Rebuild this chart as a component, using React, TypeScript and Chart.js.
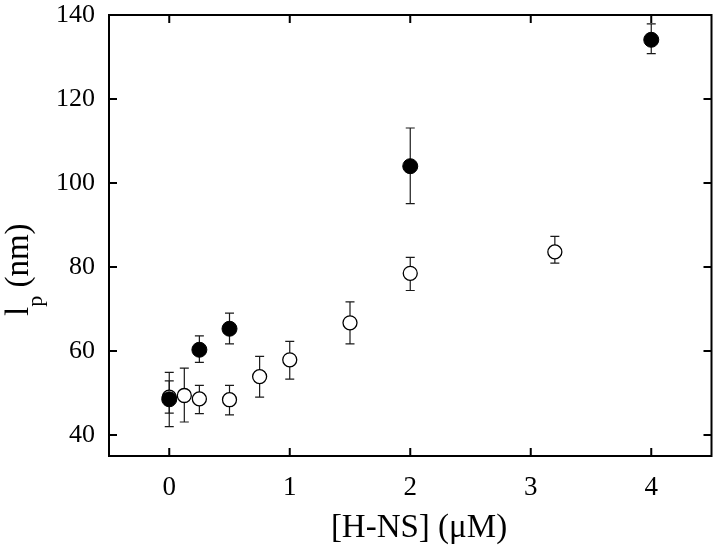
import React, { useEffect, useRef } from "react";
import { Chart, registerables } from "chart.js";

Chart.register(...registerables);

// ---- data ----
const xTicks = [0, 1, 2, 3, 4];
const yTicks = [40, 60, 80, 100, 120, 140];

const filledX = [0, 0.25, 0.5, 2, 4];
const filledY = [48.5, 60.3, 65.3, 104.0, 134.1];
const filledLow = [42.0, 57.3, 61.7, 95.1, 130.8];
const filledHigh = [54.9, 63.6, 69.0, 113.1, 137.9];

const openX = [0, 0.125, 0.25, 0.5, 0.75, 1, 1.5, 2, 3.2];
const openY = [49.0, 49.4, 48.6, 48.4, 53.9, 57.9, 66.7, 78.5, 83.6];
const openLow = [45.2, 43.1, 45.1, 44.8, 49.0, 53.3, 61.7, 74.4, 80.9];
const openHigh = [52.9, 55.9, 51.8, 51.8, 58.7, 62.3, 71.7, 82.3, 87.3];

const xTitle = "[H-NS] (\u03bcM)";
const yTitleMain = "l";
const yTitleSub = "p";
const yTitleRest = " (nm)";

const FONT = "'Liberation Serif', 'Times New Roman', serif";

const errorSeries = [
  { x: filledX, low: filledLow, high: filledHigh },
  { x: openX, low: openLow, high: openHigh },
];

const errorBarPlugin = {
  id: "errorBars",
  beforeDatasetsDraw(chart: any) {
    const { ctx, scales } = chart;
    const xs = scales.x;
    const ys = scales.y;
    ctx.save();
    ctx.strokeStyle = "#1a1a1a";
    ctx.lineWidth = 1.2;
    const cap = 4.5;
    errorSeries.forEach((s) => {
      s.x.forEach((xv, i) => {
        const px = xs.getPixelForValue(xv);
        const pl = ys.getPixelForValue(s.low[i]);
        const ph = ys.getPixelForValue(s.high[i]);
        ctx.beginPath();
        ctx.moveTo(px, pl);
        ctx.lineTo(px, ph);
        ctx.moveTo(px - cap, pl);
        ctx.lineTo(px + cap, pl);
        ctx.moveTo(px - cap, ph);
        ctx.lineTo(px + cap, ph);
        ctx.stroke();
      });
    });
    ctx.restore();
  },
};

const framePlugin = {
  id: "frame",
  afterDraw(chart: any) {
    const { ctx, chartArea, scales } = chart;
    const { left, right, top, bottom } = chartArea;
    const tl = 8;
    ctx.save();
    ctx.strokeStyle = "#000";
    ctx.lineWidth = 2;
    ctx.strokeRect(left, top, right - left, bottom - top);
    ctx.beginPath();
    xTicks.forEach((v) => {
      const px = scales.x.getPixelForValue(v);
      ctx.moveTo(px, bottom);
      ctx.lineTo(px, bottom - tl);
      ctx.moveTo(px, top);
      ctx.lineTo(px, top + tl);
    });
    yTicks.forEach((v) => {
      const py = scales.y.getPixelForValue(v);
      ctx.moveTo(left, py);
      ctx.lineTo(left + tl, py);
      ctx.moveTo(right, py);
      ctx.lineTo(right - tl, py);
    });
    ctx.stroke();

    // titles
    ctx.fillStyle = "#000";
    ctx.font = `33px ${FONT}`;
    ctx.textAlign = "center";
    ctx.textBaseline = "alphabetic";
    ctx.fillText(xTitle, 419, 537);

    // y title rotated
    ctx.save();
    ctx.translate(28, 316);
    ctx.rotate(-Math.PI / 2);
    ctx.textAlign = "left";
    ctx.font = `33px ${FONT}`;
    ctx.fillText(yTitleMain, 0, 0);
    let w = ctx.measureText(yTitleMain).width;
    ctx.font = `22px ${FONT}`;
    ctx.fillText(yTitleSub, w, 14);
    w += ctx.measureText(yTitleSub).width;
    ctx.font = `33px ${FONT}`;
    ctx.fillText(yTitleRest, w, 0);
    ctx.restore();

    ctx.restore();
  },
};

export default function App() {
  const ref = useRef<HTMLCanvasElement | null>(null);

  useEffect(() => {
    document.body.style.margin = "0";
    const canvas = ref.current;
    if (!canvas) return;
    const chart = new Chart(canvas, {
      type: "scatter",
      data: {
        datasets: [
          {
            label: "filled",
            data: filledX.map((x, i) => ({ x, y: filledY[i] })),
            pointRadius: 7.5,
            pointHoverRadius: 7.5,
            pointBackgroundColor: "#000",
            pointBorderColor: "#000",
            pointBorderWidth: 1,
          },
          {
            label: "open",
            data: openX.map((x, i) => ({ x, y: openY[i] })),
            pointRadius: 7,
            pointHoverRadius: 7,
            pointBackgroundColor: "#fff",
            pointBorderColor: "#000",
            pointBorderWidth: 1.3,
          },
        ],
      },
      options: {
        responsive: false,
        animation: false,
        layout: { padding: { left: 0, right: 7, top: 15, bottom: 0 } },
        plugins: {
          legend: { display: false },
          tooltip: { enabled: false },
        },
        scales: {
          x: {
            type: "linear",
            min: -0.5,
            max: 4.5,
            afterBuildTicks: (s: any) => {
              s.ticks = xTicks.map((v) => ({ value: v }));
            },
            afterFit: (s: any) => {
              s.height = 95;
              s.paddingLeft = 0;
              s.paddingRight = 0;
            },
            grid: { display: false },
            border: { display: false },
            ticks: {
              color: "#000",
              font: { family: FONT, size: 27 },
              padding: 8,
              maxRotation: 0,
            },
          },
          y: {
            type: "linear",
            min: 35,
            max: 140,
            afterBuildTicks: (s: any) => {
              s.ticks = yTicks.map((v) => ({ value: v }));
            },
            afterFit: (s: any) => {
              s.width = 109;
              s.paddingTop = 0;
              s.paddingBottom = 0;
            },
            grid: { display: false },
            border: { display: false },
            ticks: {
              color: "#000",
              font: { family: FONT, size: 26 },
              padding: 6,
            },
          },
        },
      },
      plugins: [errorBarPlugin, framePlugin],
    });
    return () => chart.destroy();
  }, []);

  return (
    <div style={{ width: 720, height: 551, background: "#fff" }}>
      <canvas ref={ref} width={720} height={551} />
    </div>
  );
}
